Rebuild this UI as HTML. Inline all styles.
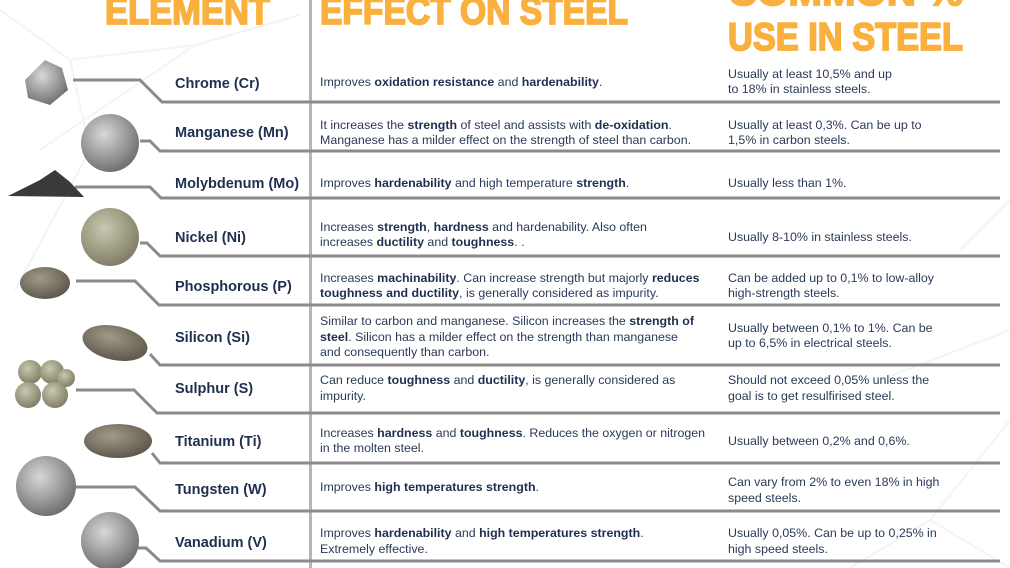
<!DOCTYPE html>
<html><head><meta charset="utf-8"><style>
html,body{margin:0;padding:0;background:#fff;}
svg{display:block;}
.n{font:bold 14.5px "Liberation Sans",sans-serif;fill:#1f2f4f;}
.t{font:12.4px "Liberation Sans",sans-serif;fill:#2a3a58;}
.t tspan.b{font-weight:bold;fill:#1f2f4f;}
.h{font:bold 39px "Liberation Sans",sans-serif;fill:#f9b03c;stroke:#f9b03c;stroke-width:1.8px;}
</style></head><body>
<svg width="1010" height="568" viewBox="0 0 1010 568" xmlns="http://www.w3.org/2000/svg">
<defs>
<radialGradient id="g1" cx="40%" cy="35%" r="70%"><stop offset="0" stop-color="#d8d8d8"/><stop offset="1" stop-color="#6a6a6a"/></radialGradient>
<radialGradient id="g2" cx="40%" cy="35%" r="70%"><stop offset="0" stop-color="#a09a88"/><stop offset="1" stop-color="#5a5548"/></radialGradient>
<radialGradient id="g3" cx="40%" cy="35%" r="70%"><stop offset="0" stop-color="#c9c8b0"/><stop offset="1" stop-color="#7c7a60"/></radialGradient>
</defs>
<g stroke="#f3f4f6" stroke-width="2" fill="none">
<path d="M0 10 L70 60 L195 45 L300 15 M70 60 L90 150 L15 290 M195 45 L40 150 M880 380 L1010 330 M930 520 L1010 420 M850 568 L930 520 L1010 568 M960 250 L1010 200"/>
</g>
<rect x="309" y="0" width="3" height="568" fill="#b5b5b5"/>
<text class="h" x="105" y="24" textLength="165" lengthAdjust="spacingAndGlyphs">ELEMENT</text>
<text class="h" x="320" y="24" textLength="308" lengthAdjust="spacingAndGlyphs">EFFECT ON STEEL</text>
<text class="h" x="728" y="5" textLength="235" lengthAdjust="spacingAndGlyphs">COMMON %</text>
<text class="h" x="728" y="50" textLength="235" lengthAdjust="spacingAndGlyphs">USE IN STEEL</text>
<g stroke="#8a8a8a" stroke-width="3" fill="none">
<path d="M73 80 L140 80 L162 102 L1000 102"/>
<path d="M140 141 L150 141 L160 151 L1000 151"/>
<path d="M75 187 L150 187 L161 198 L1000 198"/>
<path d="M140 243 L147 243 L160 256 L1000 256"/>
<path d="M76 281 L135 281 L159 305 L1000 305"/>
<path d="M150 354 L160 365 L1000 365"/>
<path d="M76 390 L134 390 L157 413 L1000 413"/>
<path d="M152 453 L160 463 L1000 463"/>
<path d="M76 487 L135 487 L160 511 L1000 511"/>
<path d="M138 548 L146 548 L160 561 L1000 561"/>
</g>
<path d="M25 80 L45 60 L62 68 L68 90 L50 105 L28 98 Z" fill="url(#g1)"/>
<circle cx="110" cy="143" r="29" fill="url(#g1)"/>
<path d="M8 196 L40 180 L55 170 L70 182 L84 197 Z" fill="#3a3a3a"/>
<circle cx="110" cy="237" r="29" fill="url(#g3)"/>
<ellipse cx="45" cy="283" rx="25" ry="16" fill="url(#g2)"/>
<ellipse cx="115" cy="343" rx="33" ry="17" fill="url(#g2)" transform="rotate(12 115 343)"/>
<g fill="url(#g3)"><circle cx="30" cy="372" r="12"/><circle cx="52" cy="372" r="12"/><circle cx="66" cy="378" r="9"/><circle cx="28" cy="395" r="13"/><circle cx="55" cy="395" r="13"/></g>
<ellipse cx="118" cy="441" rx="34" ry="17" fill="url(#g2)"/>
<circle cx="46" cy="486" r="30" fill="url(#g1)"/>
<circle cx="110" cy="541" r="29" fill="url(#g1)"/>
<text class="n" x="175" y="88">Chrome (Cr)</text>
<text class="n" x="175" y="137">Manganese (Mn)</text>
<text class="n" x="175" y="188">Molybdenum (Mo)</text>
<text class="n" x="175" y="242">Nickel (Ni)</text>
<text class="n" x="175" y="291">Phosphorous (P)</text>
<text class="n" x="175" y="342">Silicon (Si)</text>
<text class="n" x="175" y="393">Sulphur (S)</text>
<text class="n" x="175" y="446">Titanium (Ti)</text>
<text class="n" x="175" y="494">Tungsten (W)</text>
<text class="n" x="175" y="547">Vanadium (V)</text>
<text class="t" x="320" y="86">Improves <tspan class="b">oxidation resistance</tspan> and <tspan class="b">hardenability</tspan>.</text>
<text class="t" x="320" y="129">It increases the <tspan class="b">strength</tspan> of steel and assists with <tspan class="b">de-oxidation</tspan>.</text>
<text class="t" x="320" y="144">Manganese has a milder effect on the strength of steel than carbon.</text>
<text class="t" x="320" y="187">Improves <tspan class="b">hardenability</tspan> and high temperature <tspan class="b">strength</tspan>.</text>
<text class="t" x="320" y="231">Increases <tspan class="b">strength</tspan>, <tspan class="b">hardness</tspan> and hardenability. Also often</text>
<text class="t" x="320" y="246">increases <tspan class="b">ductility</tspan> and <tspan class="b">toughness</tspan>. .</text>
<text class="t" x="320" y="282">Increases <tspan class="b">machinability</tspan>. Can increase strength but majorly <tspan class="b">reduces</tspan></text>
<text class="t" x="320" y="297"><tspan class="b">toughness and ductility</tspan>, is generally considered as impurity.</text>
<text class="t" x="320" y="325">Similar to carbon and manganese. Silicon increases the <tspan class="b">strength of</tspan></text>
<text class="t" x="320" y="341"><tspan class="b">steel</tspan>. Silicon has a milder effect on the strength than manganese</text>
<text class="t" x="320" y="356">and consequently than carbon.</text>
<text class="t" x="320" y="384">Can reduce <tspan class="b">toughness</tspan> and <tspan class="b">ductility</tspan>, is generally considered as</text>
<text class="t" x="320" y="400">impurity.</text>
<text class="t" x="320" y="437">Increases <tspan class="b">hardness</tspan> and <tspan class="b">toughness</tspan>. Reduces the oxygen or nitrogen</text>
<text class="t" x="320" y="452">in the molten steel.</text>
<text class="t" x="320" y="491">Improves <tspan class="b">high temperatures strength</tspan>.</text>
<text class="t" x="320" y="537">Improves <tspan class="b">hardenability</tspan> and <tspan class="b">high temperatures strength</tspan>.</text>
<text class="t" x="320" y="553">Extremely effective.</text>
<text class="t" x="728" y="78">Usually at least 10,5% and up</text>
<text class="t" x="728" y="93">to 18% in stainless steels.</text>
<text class="t" x="728" y="129">Usually at least 0,3%. Can be up to</text>
<text class="t" x="728" y="144">1,5% in carbon steels.</text>
<text class="t" x="728" y="187">Usually less than 1%.</text>
<text class="t" x="728" y="241">Usually 8-10% in stainless steels.</text>
<text class="t" x="728" y="282">Can be added up to 0,1% to low-alloy</text>
<text class="t" x="728" y="297">high-strength steels.</text>
<text class="t" x="728" y="332">Usually between 0,1% to 1%. Can be</text>
<text class="t" x="728" y="347">up to 6,5% in electrical steels.</text>
<text class="t" x="728" y="384">Should not exceed 0,05% unless the</text>
<text class="t" x="728" y="400">goal is to get resulfirised steel.</text>
<text class="t" x="728" y="445">Usually between 0,2% and 0,6%.</text>
<text class="t" x="728" y="486">Can vary from 2% to even 18% in high</text>
<text class="t" x="728" y="502">speed steels.</text>
<text class="t" x="728" y="537">Usually 0,05%. Can be up to 0,25% in</text>
<text class="t" x="728" y="553">high speed steels.</text>
</svg>
</body></html>
